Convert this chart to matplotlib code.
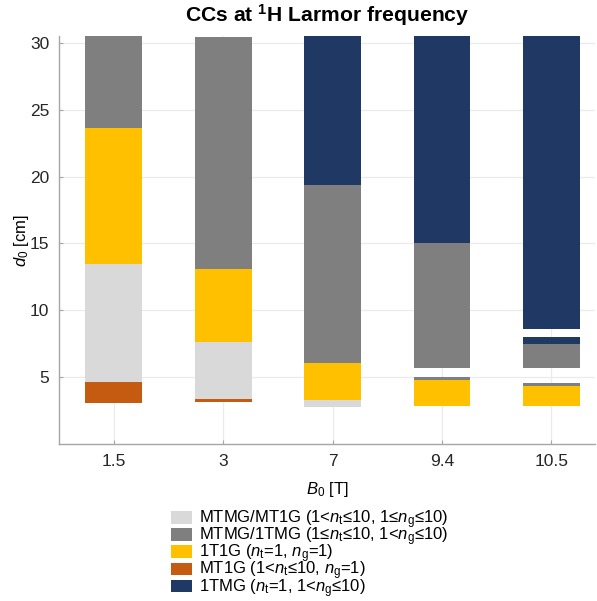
import matplotlib
matplotlib.use('Agg')
import matplotlib.pyplot as plt
from matplotlib.patches import Patch

plt.rcParams['font.family'] = ['Liberation Sans', 'DejaVu Sans']
plt.rcParams['mathtext.fontset'] = 'custom'
plt.rcParams['mathtext.rm'] = 'Liberation Sans'
plt.rcParams['mathtext.it'] = 'Liberation Sans:italic'
plt.rcParams['mathtext.bf'] = 'Liberation Sans:bold'

b0_labels = ['1.5', '3', '7', '9.4', '10.5']

# segments: (bar index, lower d0, upper d0)
mtmg_mt1g = [(0, 4.65, 13.5), (1, 3.4, 7.6), (2, 2.8, 3.3)]
mtmg_1tmg = [(0, 23.6, 30.5), (1, 13.1, 30.4), (2, 6.1, 19.4),
             (3, 4.8, 5.0), (3, 5.7, 15.0),
             (4, 4.35, 4.6), (4, 5.7, 7.45)]
t1g = [(0, 13.5, 23.6), (1, 7.6, 13.1), (2, 3.3, 6.1),
       (3, 2.85, 4.8), (4, 2.85, 4.35)]
mt1g = [(0, 3.1, 4.65), (1, 3.15, 3.4)]
tmg = [(2, 19.4, 30.5), (3, 15.0, 30.5), (4, 7.45, 8.0), (4, 8.6, 30.5)]

classes = [
    ('MTMG/MT1G (1<$n_\\mathrm{t}$≤10, 1≤$n_\\mathrm{g}$≤10)', mtmg_mt1g, '#D9D9D9'),
    ('MTMG/1TMG (1≤$n_\\mathrm{t}$≤10, 1<$n_\\mathrm{g}$≤10)', mtmg_1tmg, '#7F7F7F'),
    ('1T1G ($n_\\mathrm{t}$=1, $n_\\mathrm{g}$=1)', t1g, '#FFC000'),
    ('MT1G (1<$n_\\mathrm{t}$≤10, $n_\\mathrm{g}$=1)', mt1g, '#C55A11'),
    ('1TMG ($n_\\mathrm{t}$=1, 1<$n_\\mathrm{g}$≤10)', tmg, '#203864'),
]

fig = plt.figure(figsize=(5.97, 6.01), dpi=100)
ax = fig.add_axes([0.099, 0.261, 0.898, 0.679])

handles = []
for label, segs, color in classes:
    xs = [s[0] + 1 for s in segs]
    bottoms = [s[1] for s in segs]
    heights = [s[2] - s[1] for s in segs]
    ax.bar(xs, heights, bottom=bottoms, width=0.52, color=color, zorder=3)
    handles.append(Patch(facecolor=color, label=label))

ax.set_xlim(0.5, 5.4)
ax.set_ylim(0, 30.5)
ax.set_xticks(range(1, 6))
ax.set_xticklabels(b0_labels)
ax.set_yticks([5, 10, 15, 20, 25, 30])
ax.grid(True, color='#EBEBEB', linewidth=0.9, zorder=0)
ax.tick_params(direction='in', length=3, color='#A6A6A6', labelsize=12.5,
               labelcolor='#262626', pad=7)
for side in ['top', 'right']:
    ax.spines[side].set_visible(False)
for side in ['left', 'bottom']:
    ax.spines[side].set_color('#A6A6A6')
    ax.spines[side].set_linewidth(1.0)

ax.set_title('CCs at $^\\mathbf{1}$H Larmor frequency', fontsize=15.2,
             fontweight='bold', pad=10)
ax.set_xlabel('$B_0$ [T]', fontsize=12, labelpad=8)
ax.set_ylabel('$d_0$ [cm]', fontsize=12, labelpad=-1)

fig.legend(handles=handles, loc='upper left', bbox_to_anchor=(0.275, 0.165),
           frameon=False, fontsize=12, handlelength=1.25, handleheight=0.8,
           handletextpad=0.45, labelspacing=-0.33, borderaxespad=0)

fig.savefig('out.png', dpi=100)
